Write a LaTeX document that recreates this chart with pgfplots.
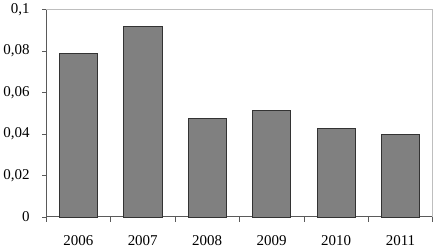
\documentclass[border=0pt]{standalone}
\usepackage{pgfplots}
\pgfplotsset{compat=1.18}
\usepackage{fontspec}
\setmainfont{Liberation Serif}
\definecolor{barfill}{RGB}{128,128,128}
\definecolor{axisgray}{RGB}{90,90,90}
\definecolor{framegray}{RGB}{190,190,190}
\begin{document}
\begin{tikzpicture}
\begin{axis}[
  scale only axis,
  width=386bp, height=207bp,
  xmin=-0.5, xmax=5.5,
  ymin=0, ymax=0.1,
  axis x line*=bottom, axis y line*=left,
  axis line style={axisgray, line width=0.6pt},
  xtick={0,...,5},
  xticklabels={2006,2007,2008,2009,2010,2011},
  minor xtick={-0.5,0.5,...,5.5},
  x tick label style={font=\fontsize{15}{15}\selectfont, yshift=-11bp},
  ytick={0,0.02,0.04,0.06,0.08,0.1},
  y tick label style={font=\fontsize{15}{15}\selectfont, xshift=-9bp},
  /pgf/number format/assume math mode=true,
  /pgf/number format/.cd, use comma, fixed, precision=2,
  /pgfplots/.cd,
  tick align=outside,
  major tick length=4bp,
  minor tick length=5bp,
  xtick style={draw=none},
  minor x tick style={draw=axisgray, line width=0.5pt},
  ytick style={draw=axisgray, line width=0.5pt},
  ybar, bar width=38bp,
  clip=false,
]
\addplot[fill=barfill, draw=black!80, line width=0.5pt] coordinates {
  (0,0.0787) (1,0.0918) (2,0.0473) (3,0.0512) (4,0.0425) (5,0.0396)
};
\draw[framegray, line width=0.6pt] (rel axis cs:0,1) -- (rel axis cs:1,1) -- (rel axis cs:1,0);
\end{axis}
\end{tikzpicture}
\end{document}
